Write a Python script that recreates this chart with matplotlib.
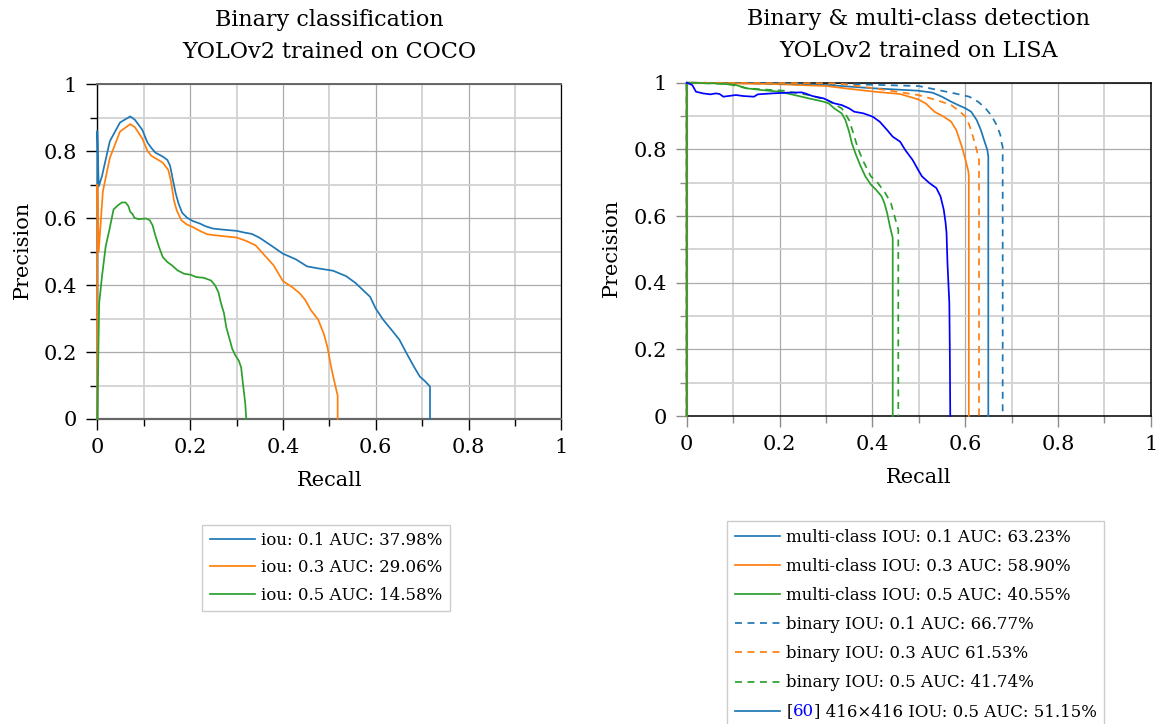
import matplotlib
matplotlib.use("Agg")
import matplotlib.pyplot as plt
from matplotlib.ticker import MultipleLocator, FixedLocator
from matplotlib.lines import Line2D
from matplotlib.offsetbox import HPacker, TextArea

plt.rcParams['font.family'] = ['DejaVu Serif']
plt.rcParams['lines.scale_dashes'] = False

# ---------------- data ----------------
tick_values = [0, 0.2, 0.4, 0.6, 0.8, 1]
tick_labels = ["0", "0.2", "0.4", "0.6", "0.8", "1"]

# Left: Binary classification, YOLOv2 trained on COCO
coco_r_01 = [0, 0, 0.003, 0.010, 0.027, 0.049, 0.071, 0.081, 0.097, 0.108, 0.117, 0.125, 0.141, 0.151,
             0.157, 0.163, 0.169, 0.175, 0.183, 0.193, 0.205, 0.221, 0.233, 0.249, 0.269, 0.301, 0.317,
             0.333, 0.349, 0.360, 0.376, 0.400, 0.428, 0.452, 0.476, 0.508, 0.536, 0.556, 0.588, 0.600,
             0.616, 0.636, 0.651, 0.667, 0.683, 0.695, 0.707, 0.717, 0.717]
coco_p_01 = [0, 0.86, 0.695, 0.725, 0.83, 0.886, 0.904, 0.894, 0.864, 0.826, 0.809, 0.796, 0.784, 0.774,
             0.756, 0.714, 0.674, 0.644, 0.616, 0.602, 0.592, 0.584, 0.576, 0.569, 0.566, 0.562, 0.557,
             0.553, 0.542, 0.532, 0.517, 0.494, 0.477, 0.456, 0.450, 0.443, 0.427, 0.407, 0.365, 0.330,
             0.297, 0.263, 0.237, 0.195, 0.155, 0.127, 0.112, 0.097, 0]

coco_r_03 = [0, 0, 0.003, 0.012, 0.027, 0.049, 0.071, 0.081, 0.097, 0.108, 0.117, 0.129, 0.141, 0.153,
             0.159, 0.165, 0.171, 0.181, 0.193, 0.205, 0.221, 0.237, 0.253, 0.301, 0.321, 0.341, 0.356,
             0.380, 0.400, 0.420, 0.436, 0.448, 0.460, 0.476, 0.488, 0.496, 0.504, 0.512, 0.518, 0.518]
coco_p_03 = [0, 0.70, 0.50, 0.68, 0.78, 0.859, 0.881, 0.872, 0.838, 0.801, 0.786, 0.776, 0.766, 0.744,
             0.709, 0.654, 0.624, 0.594, 0.581, 0.574, 0.562, 0.552, 0.549, 0.542, 0.532, 0.519, 0.496,
             0.459, 0.412, 0.394, 0.376, 0.356, 0.326, 0.297, 0.255, 0.215, 0.155, 0.105, 0.070, 0]

coco_r_05 = [0, 0.004, 0.010, 0.018, 0.026, 0.035, 0.045, 0.053, 0.061, 0.067, 0.071, 0.076, 0.080,
             0.089, 0.105, 0.113, 0.119, 0.125, 0.133, 0.141, 0.151, 0.161, 0.173, 0.187, 0.201, 0.213,
             0.229, 0.245, 0.254, 0.261, 0.266, 0.273, 0.278, 0.285, 0.291, 0.298, 0.305, 0.310, 0.314,
             0.319, 0.321]
coco_p_05 = [0, 0.345, 0.425, 0.515, 0.565, 0.626, 0.639, 0.647, 0.647, 0.636, 0.619, 0.612, 0.601,
             0.597, 0.599, 0.594, 0.579, 0.549, 0.514, 0.484, 0.469, 0.459, 0.444, 0.434, 0.431, 0.424,
             0.422, 0.414, 0.399, 0.379, 0.349, 0.316, 0.274, 0.239, 0.209, 0.189, 0.174, 0.154, 0.104,
             0.045, 0]

coco_labels = ["iou: 0.1 AUC: 37.98%", "iou: 0.3 AUC: 29.06%", "iou: 0.5 AUC: 14.58%"]

# Right: Binary & multi-class detection, YOLOv2 trained on LISA
mc_r_01 = [0, 0, 0.200, 0.302, 0.405, 0.499, 0.530, 0.550, 0.570, 0.585, 0.601, 0.613, 0.625, 0.634,
           0.642, 0.648, 0.650, 0.650]
mc_p_01 = [0, 1.0, 0.998, 0.993, 0.983, 0.976, 0.970, 0.958, 0.943, 0.933, 0.923, 0.913, 0.888, 0.858,
           0.823, 0.798, 0.778, 0]

mc_r_03 = [0, 0, 0.185, 0.302, 0.342, 0.405, 0.460, 0.499, 0.515, 0.534, 0.554, 0.570, 0.581, 0.593,
           0.601, 0.607, 0.608, 0.608]
mc_p_03 = [0, 1.0, 0.996, 0.990, 0.983, 0.973, 0.966, 0.950, 0.938, 0.913, 0.898, 0.883, 0.858, 0.808,
           0.768, 0.734, 0.719, 0]

mc_r_05 = [0, 0, 0.067, 0.106, 0.130, 0.161, 0.200, 0.232, 0.263, 0.295, 0.306, 0.318, 0.334, 0.342,
           0.350, 0.356, 0.365, 0.375, 0.385, 0.397, 0.408, 0.420, 0.426, 0.432, 0.438, 0.444, 0.444]
mc_p_05 = [0, 1.0, 0.998, 0.993, 0.983, 0.978, 0.973, 0.963, 0.953, 0.943, 0.938, 0.923, 0.908, 0.888,
           0.853, 0.818, 0.783, 0.749, 0.719, 0.694, 0.679, 0.659, 0.639, 0.609, 0.569, 0.534, 0]

bin_r_01 = [0, 0, 0.342, 0.500, 0.577, 0.609, 0.628, 0.644, 0.656, 0.668, 0.676, 0.679, 0.681, 0.681]
bin_p_01 = [0, 1.0, 0.996, 0.990, 0.968, 0.958, 0.943, 0.923, 0.903, 0.873, 0.843, 0.818, 0.808, 0]

bin_r_03 = [0, 0, 0.326, 0.405, 0.499, 0.538, 0.570, 0.589, 0.601, 0.609, 0.617, 0.625, 0.630, 0.630]
bin_p_03 = [0, 1.0, 0.998, 0.983, 0.963, 0.948, 0.933, 0.913, 0.898, 0.873, 0.838, 0.798, 0.768, 0]

bin_r_05 = [0, 0, 0.090, 0.130, 0.208, 0.263, 0.302, 0.334, 0.350, 0.357, 0.369, 0.381, 0.397, 0.412,
            0.428, 0.440, 0.448, 0.453, 0.456, 0.456]
bin_p_05 = [0, 1.0, 0.996, 0.983, 0.976, 0.963, 0.948, 0.923, 0.888, 0.858, 0.803, 0.763, 0.719, 0.699,
            0.669, 0.639, 0.599, 0.574, 0.559, 0]

ref_r = [0.0, 0.012, 0.020, 0.035, 0.051, 0.063, 0.071, 0.079, 0.090, 0.106, 0.122, 0.145, 0.153,
         0.185, 0.216, 0.247, 0.255, 0.271, 0.295, 0.318, 0.334, 0.350, 0.361, 0.381, 0.401, 0.416,
         0.432, 0.444, 0.460, 0.471, 0.487, 0.499, 0.507, 0.523, 0.538, 0.547, 0.554, 0.558, 0.560,
         0.562, 0.566, 0.567, 0.568]
ref_p = [1.0, 0.993, 0.973, 0.968, 0.965, 0.968, 0.966, 0.958, 0.960, 0.963, 0.960, 0.958, 0.965,
         0.968, 0.970, 0.971, 0.968, 0.960, 0.953, 0.938, 0.933, 0.923, 0.913, 0.908, 0.898, 0.883,
         0.858, 0.838, 0.823, 0.798, 0.768, 0.738, 0.719, 0.699, 0.684, 0.659, 0.619, 0.579, 0.549,
         0.459, 0.339, 0.210, 0]

lisa_labels = ["multi-class IOU: 0.1 AUC: 63.23%",
               "multi-class IOU: 0.3 AUC: 58.90%",
               "multi-class IOU: 0.5 AUC: 40.55%",
               "binary IOU: 0.1 AUC: 66.77%",
               "binary IOU: 0.3 AUC 61.53%",
               "binary IOU: 0.5 AUC: 41.74%",
               "[60] 416×416 IOU: 0.5 AUC: 51.15%"]
ref_label_parts = ["[", "60", "] 416×416 IOU: 0.5 AUC: 51.15%"]

# ---------------- style ----------------
C_BLUE = '#1f77b4'
C_ORANGE = '#ff7f0e'
C_GREEN = '#2ca02c'
C_REF = '#0000ff'
DASH = (0, (5.0, 4.0))
LW = 1.25
FS = 15
TFS = 16
LFS = 12

W, H = 1161, 724
fig = plt.figure(figsize=(W / 100, H / 100), dpi=100)
axL = fig.add_axes([97.3 / W, 1 - 419 / H, 464 / W, 334.7 / H])
axR = fig.add_axes([686.7 / W, 1 - 416 / H, 464 / W, 333.3 / H])

for ax, tcol in ((axL, 'black'), (axR, '#8c8c8c')):
    ax.set_xlim(0, 1)
    ax.set_ylim(0, 1)
    for axis in (ax.xaxis, ax.yaxis):
        axis.set_major_locator(FixedLocator(tick_values))
        axis.set_minor_locator(MultipleLocator(0.1))
    ax.set_xticklabels(tick_labels)
    ax.set_yticklabels(tick_labels)
    ax.grid(which='major', color='#ababab', lw=0.9)
    ax.grid(which='minor', color='#d4d4d4', lw=1.4)
    ax.set_axisbelow(True)
    ax.tick_params(which='major', direction='out', length=8, width=1.0, color=tcol,
                   labelsize=FS, labelcolor='black')
    ax.tick_params(which='minor', direction='out', length=5, width=1.0, color=tcol)
    ax.tick_params(axis='x', which='major', pad=5.5)
    ax.tick_params(axis='y', which='major', pad=6.5)
    ax.set_xlabel("Recall", fontsize=FS)
    ax.set_ylabel("Precision", fontsize=FS)
    ax.xaxis.set_label_coords(0.5, -0.185)
    ax.xaxis.label.set_va('center')
    ax.yaxis.set_label_coords(-0.162, 0.505)
    ax.yaxis.label.set_va('center')

# spines
axL.spines['left'].set_color('black'); axL.spines['left'].set_linewidth(1.0)
axL.spines['right'].set_color('black'); axL.spines['right'].set_linewidth(0.9)
axL.spines['top'].set_color('#666666'); axL.spines['top'].set_linewidth(1.4)
axL.spines['bottom'].set_color('#666666'); axL.spines['bottom'].set_linewidth(1.6)
for s in axR.spines.values():
    s.set_color('black'); s.set_linewidth(1.1)

# left curves
kw = dict(lw=LW, clip_on=False, zorder=3)
l1, = axL.plot(coco_r_01, coco_p_01, color=C_BLUE, **kw)
l2, = axL.plot(coco_r_03, coco_p_03, color=C_ORANGE, **kw)
l3, = axL.plot(coco_r_05, coco_p_05, color=C_GREEN, **kw)

# right curves
axR.plot(mc_r_01, mc_p_01, color=C_BLUE, **kw)
axR.plot(mc_r_03, mc_p_03, color=C_ORANGE, **kw)
axR.plot(mc_r_05, mc_p_05, color=C_GREEN, **kw)
axR.plot(bin_r_01, bin_p_01, color=C_BLUE, ls=DASH, **kw)
axR.plot(bin_r_03, bin_p_03, color=C_ORANGE, ls=DASH, **kw)
axR.plot(bin_r_05, bin_p_05, color=C_GREEN, ls=DASH, **kw)
axR.plot(ref_r, ref_p, color=C_REF, **kw)

# titles
fig.text(329.3 / W, 1 - 20 / H, "Binary classification", ha='center', va='center', fontsize=TFS)
fig.text(329.3 / W, 1 - 52 / H, "YOLOv2 trained on COCO", ha='center', va='center', fontsize=TFS)
fig.text(918.7 / W, 1 - 19 / H, "Binary & multi-class detection", ha='center', va='center', fontsize=TFS)
fig.text(918.7 / W, 1 - 51 / H, "YOLOv2 trained on LISA", ha='center', va='center', fontsize=TFS)

leg_kw = dict(loc='upper left', fontsize=LFS, frameon=True, fancybox=False, framealpha=1,
              edgecolor='#cccccc', borderpad=0.45, handlelength=2.7, handletextpad=0.4,
              borderaxespad=0)
legL = fig.legend([l1, l2, l3], coco_labels, bbox_to_anchor=(202 / W, 1 - 524.5 / H),
                  bbox_transform=fig.transFigure, labelspacing=0.62, **leg_kw)
legL.get_frame().set_linewidth(1.0)

handlesR = [Line2D([], [], color=C_BLUE, lw=LW),
            Line2D([], [], color=C_ORANGE, lw=LW),
            Line2D([], [], color=C_GREEN, lw=LW),
            Line2D([], [], color=C_BLUE, lw=LW, ls=DASH),
            Line2D([], [], color=C_ORANGE, lw=LW, ls=DASH),
            Line2D([], [], color=C_GREEN, lw=LW, ls=DASH),
            Line2D([], [], color=C_BLUE, lw=LW)]
legR = fig.legend(handlesR, lisa_labels, bbox_to_anchor=(727.3 / W, 1 - 521 / H),
                  bbox_transform=fig.transFigure, labelspacing=0.73, **leg_kw)
legR.get_frame().set_linewidth(1.0)

# colour the citation number "60" blue in the last legend entry
part_colors = ['black', C_REF, 'black']
row = legR._legend_handle_box.get_children()[0].get_children()[-1]
packed = HPacker(pad=0, sep=0, align='baseline', children=[
    TextArea(s, textprops=dict(color=c, fontsize=LFS, va='baseline', ha='left'))
    for s, c in zip(ref_label_parts, part_colors)])
packed.set_figure(fig)
row._children[1] = packed

fig.savefig("out.png", dpi=100)
